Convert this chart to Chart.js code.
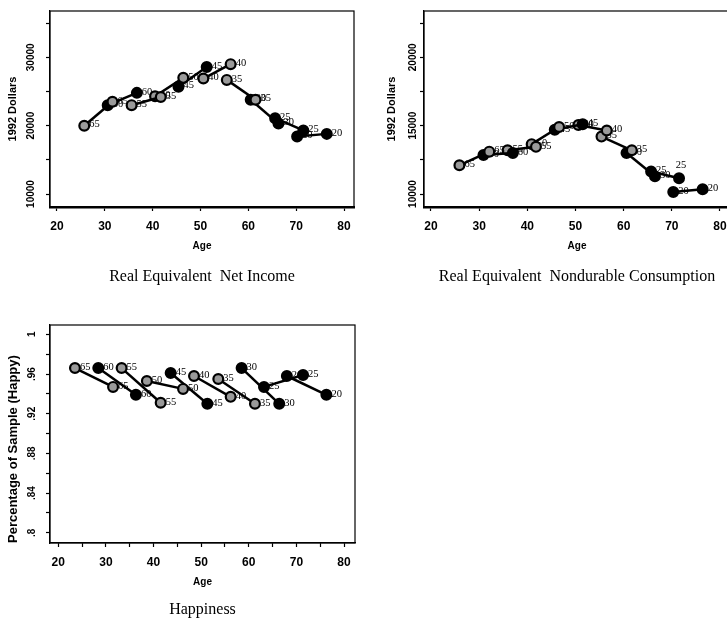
<!DOCTYPE html>
<html>
<head>
<meta charset="utf-8">
<script src="https://cdn.jsdelivr.net/npm/chart.js@4"></script>
<style>
  html, body { margin: 0; padding: 0; background: #fff; width: 727px; height: 619px; overflow: hidden; }
  canvas { position: absolute; }
</style>
</head>
<body>
<canvas id="incomeChart" width="364" height="300" style="left:0;top:0"></canvas>
<canvas id="consChart" width="380" height="300" style="left:364px;top:0"></canvas>
<canvas id="happyChart" width="364" height="320" style="left:0;top:300px"></canvas>
<script>
// birth cohorts, each seen twice (first and second survey)
const cohorts = ["65", "60", "55", "50", "45", "40", "35", "30", "25", "20"];

// Real equivalent net income (1992 dollars)
const incomeAge1 = [25.7, 30.6, 35.6, 40.5, 45.4, 50.6, 55.5, 60.5, 65.6, 70.2];
const incomeAge2 = [31.6, 36.7, 41.7, 46.4, 51.3, 56.3, 61.5, 66.3, 71.5, 76.4];
const incomeVal1 = [20000, 23000, 23000, 24300, 25700, 26900, 26700, 23800, 21100, 18400];
const incomeVal2 = [23500, 24800, 24200, 27000, 28600, 29000, 23800, 20300, 19300, 18800];

// Real equivalent nondurable consumption (1992 dollars)
const consAge1 = [25.9, 30.9, 35.9, 40.9, 45.7, 50.6, 55.4, 60.6, 65.7, 70.3];
const consAge2 = [32.1, 37.0, 41.8, 46.6, 51.5, 56.5, 61.7, 66.5, 71.5, 76.4];
const consVal1 = [12100, 12850, 13200, 13650, 14700, 15050, 14200, 13000, 11650, 10150];
const consVal2 = [13100, 13000, 13450, 14900, 15100, 14650, 13200, 11300, 11150, 10350];

// Happiness (share of sample happy)
const happyAge1 = [23.5, 28.4, 33.3, 38.6, 43.6, 48.5, 53.6, 58.5, 63.2, 68.0];
const happyAge2 = [31.5, 36.3, 41.5, 46.2, 51.3, 56.2, 61.3, 66.4, 71.4, 76.3];
const happyVal1 = [0.966, 0.966, 0.966, 0.953, 0.961, 0.958, 0.955, 0.966, 0.947, 0.958];
const happyVal2 = [0.947, 0.939, 0.931, 0.945, 0.930, 0.937, 0.930, 0.930, 0.959, 0.939];

// ticks
const ageTicks = [20, 30, 40, 50, 60, 70, 80];
const ageTicksFine = [20, 25, 30, 35, 40, 45, 50, 55, 60, 65, 70, 75, 80];
const incomeTicks = [10000, 15000, 20000, 25000, 30000, 35000];
const incomeTickLabels = [10000, 20000, 30000];
const consTicks = [10000, 12500, 15000, 17500, 20000, 22500];
const consTickLabels = [10000, 15000, 20000];
const happyTicks = [0.80, 0.82, 0.84, 0.86, 0.88, 0.90, 0.92, 0.94, 0.96, 0.98, 1.00];
const happyTickValues = [0.80, 0.84, 0.88, 0.92, 0.96, 1.00];
const happyTickText = [".8", ".84", ".88", ".92", ".96", "1"];

// marker look: shaded centre or solid black
const cohortShade = [1, 0, 1, 1, 0, 1, 1, 0, 0, 0];

const sans = '"Liberation Sans", Arial, sans-serif';
const serif = '"Liberation Serif", "Times New Roman", serif';

function cohortSets(a1, a2, v1, v2, above) {
  return cohorts.map((c, i) => ({
    label: c,
    data: [{x: a1[i], y: v1[i]}, {x: a2[i], y: v2[i]}],
    showLine: true,
    borderColor: "#000",
    borderWidth: 2.5,
    pointRadius: 4.9,
    pointBorderWidth: 2.2,
    pointBorderColor: "#000",
    pointBackgroundColor: cohortShade[i] ? "#9a9a9a" : "#000",
    labelAbove: above && above[i] ? above[i] : [false, false],
  }));
}

const pointLabels = {
  id: "pointLabels",
  afterDatasetDraw(chart, args) {
    const ctx = chart.ctx;
    const ds = chart.data.datasets[args.index];
    ctx.save();
    ctx.font = "10.5px " + serif;
    ctx.fillStyle = "#000";
    ctx.textBaseline = "middle";
    args.meta.data.forEach((pt, j) => {
      if (ds.labelAbove[j]) {
        ctx.textAlign = "center";
        ctx.fillText(ds.label, pt.x + 2, pt.y - 13);
      } else {
        ctx.textAlign = "left";
        ctx.fillText(ds.label, pt.x + 5, pt.y - 1);
      }
    });
    ctx.restore();
  }
};

const frame = {
  id: "frame",
  beforeDatasetsDraw(chart) {
    const {ctx, chartArea: a} = chart;
    ctx.save();
    ctx.strokeStyle = "#000";
    ctx.lineWidth = 1.2;
    ctx.strokeRect(a.left, a.top, a.right - a.left, a.bottom - a.top);
    ctx.restore();
  }
};

function pickLabel(vals, texts) {
  return v => {
    const k = vals.findIndex(t => Math.abs(t - v) < 1e-6);
    return k < 0 ? "" : (texts ? texts[k] : String(vals[k]));
  };
}

function makeChart(el, p) {
  return new Chart(document.getElementById(el), {
    type: "scatter",
    data: {datasets: p.datasets},
    options: {
      responsive: false,
      animation: false,
      devicePixelRatio: 1,
      layout: {padding: p.padding},
      plugins: {
        legend: {display: false},
        tooltip: {enabled: false},
        title: {
          display: true, text: p.title, position: "bottom", fullSize: false, color: "#000",
          font: {family: serif, size: 16, weight: "normal"},
          padding: {top: p.titlePad, bottom: 0}
        }
      },
      scales: {
        x: {
          type: "linear", min: p.xMin, max: p.xMax,
          afterBuildTicks: s => { s.ticks = p.xTicks.map(v => ({value: v})); },
          afterFit: s => { s.height = p.xH; },
          grid: {drawOnChartArea: false, tickLength: 4, color: "#000", tickWidth: 1.2},
          border: {color: "#000", width: p.xBorder},
          ticks: {
            color: "#000", autoSkip: false, maxRotation: 0, padding: 8.5,
            font: {family: sans, size: 12, weight: "bold"},
            callback: pickLabel(ageTicks)
          },
          title: {display: true, text: "Age", color: "#000", padding: 0,
            font: {family: sans, size: 10, weight: "bold"}}
        },
        y: {
          type: "linear", min: p.yMin, max: p.yMax,
          afterBuildTicks: s => { s.ticks = p.yTicks.map(v => ({value: v})); },
          afterFit: s => { s.width = p.yW; },
          grid: {drawOnChartArea: false, tickLength: 4, color: "#000", tickWidth: 1.2},
          border: {color: "#000", width: 1.2},
          ticks: {
            color: "#000", autoSkip: false, minRotation: 90, maxRotation: 90,
            crossAlign: "center", padding: p.yPad,
            font: {family: sans, size: 10, weight: "bold"},
            callback: p.yLabel
          },
          title: {display: true, text: p.yTitle, color: "#000", align: p.yTitleAlign || "center",
            padding: {top: p.yTitlePad, bottom: 0},
            font: {family: sans, size: p.yTitleSize, weight: "bold"}}
        }
      }
    },
    plugins: [frame, pointLabels]
  });
}

makeChart("incomeChart", {
  datasets: cohortSets(incomeAge1, incomeAge2, incomeVal1, incomeVal2),
  title: "Real Equivalent  Net Income",
  padding: {left: 0, right: 10, top: 11, bottom: 13.3},
  titlePad: 15, xH: 45.5, xBorder: 2.5, yW: 50, yPad: 1.3,
  xMin: 18.54, xMax: 82.09, xTicks: ageTicks,
  yMin: 8100, yMax: 36780, yTicks: incomeTicks, yLabel: pickLabel(incomeTickLabels),
  yTitle: "1992 Dollars", yTitleSize: 11, yTitlePad: 6.4
});

makeChart("consChart", {
  datasets: cohortSets(consAge1, consAge2, consVal1, consVal2,
    [null, null, null, null, null, null, null, null, [false, true], null]),
  title: "Real Equivalent  Nondurable Consumption",
  padding: {left: 0, right: 14, top: 11, bottom: 13.3},
  titlePad: 15, xH: 45.5, xBorder: 2.5, yW: 60, yPad: -6.9,
  xMin: 18.55, xMax: 82.08, xTicks: ageTicks,
  yMin: 9050, yMax: 23390, yTicks: consTicks, yLabel: pickLabel(consTickLabels),
  yTitle: "1992 Dollars", yTitleSize: 11, yTitlePad: 21.4
});

makeChart("happyChart", {
  datasets: cohortSets(happyAge1, happyAge2, happyVal1, happyVal2),
  title: "Happiness",
  padding: {left: 0, right: 9, top: 25, bottom: 0.4},
  titlePad: 11.7, xH: 45.7, xBorder: 1.2, yW: 50, yPad: 7,
  xMin: 18.26, xMax: 82.31, xTicks: ageTicksFine,
  yMin: 0.7897, yMax: 1.0094, yTicks: happyTicks, yLabel: pickLabel(happyTickValues, happyTickText),
  yTitle: "Percentage of Sample (Happy)", yTitleSize: 13, yTitlePad: 6, yTitleAlign: "start"
});
</script>
</body>
</html>
